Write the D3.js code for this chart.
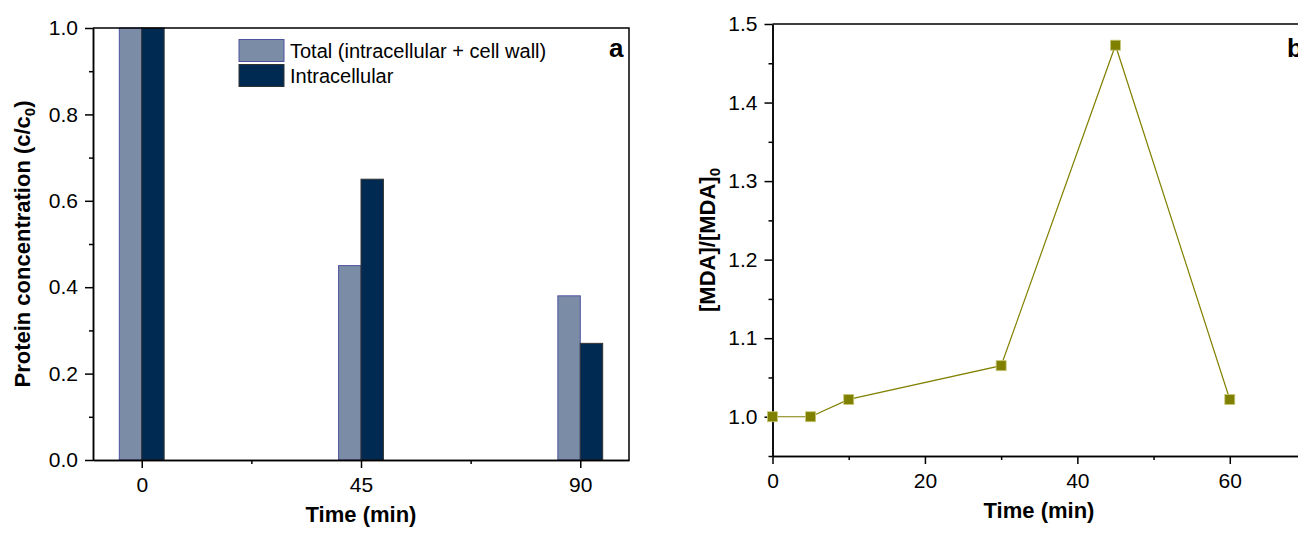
<!DOCTYPE html>
<html>
<head>
<meta charset="utf-8">
<script src="https://d3js.org/d3.v7.min.js"></script>
<style>
  body { margin: 0; background: #fff; }
  svg text { font-family: Arial, "Liberation Sans", sans-serif; fill: #000; }
  .axis path, .axis line { stroke: #000; stroke-width: 1.5; }
  .axis text { font-size: 21px; }
</style>
</head>
<body>
<svg id="chart" width="1298" height="534"></svg>
<script>
// ---- panel a data ----
var timesA = [0, 45, 90];
var totalA = [1.0, 0.45, 0.38];
var intraA = [1.0, 0.65, 0.27];
var seriesNames = ["Total (intracellular + cell wall)", "Intracellular"];
var ticksAx = [0, 45, 90];
var minorAx = [22.5, 67.5];
var ticksAy = [0, 0.2, 0.4, 0.6, 0.8, 1.0];
var minorAy = [0.1, 0.3, 0.5, 0.7, 0.9];

// ---- panel b data ----
var timesB = [0, 5, 10, 30, 45, 60];
var mdaB = [1.0, 1.0, 1.022, 1.065, 1.473, 1.022];
var ticksBx = [0, 20, 40, 60];
var minorBx = [10, 30, 50];
var ticksBy = [1.0, 1.1, 1.2, 1.3, 1.4, 1.5];
var minorBy = [0.95, 1.05, 1.15, 1.25, 1.35, 1.45];

var colTotal = "#7a8ca6", colTotalEdge = "#4f52a0";
var colIntra = "#002a52", colIntraEdge = "#333333";
var olive = "#808000";
var barW = 4.6; // bar width in minutes

var svg = d3.select("#chart");

// ================= panel a =================
var xA = d3.scaleLinear().domain([-10, 100]).range([93, 629]);
var yA = d3.scaleLinear().domain([0, 1]).range([460, 28]);

var gA = svg.append("g");

// bars
var bars = gA.append("g");
bars.selectAll("rect.total")
  .data(timesA)
  .enter().append("rect")
  .attr("class", "total")
  .attr("x", function(d) { return xA(d - barW); })
  .attr("width", function(d) { return xA(d) - xA(d - barW); })
  .attr("y", function(d, i) { return yA(totalA[i]); })
  .attr("height", function(d, i) { return yA(0) - yA(totalA[i]); })
  .attr("fill", colTotal)
  .attr("stroke", colTotalEdge)
  .attr("stroke-width", 1);

bars.selectAll("rect.intra")
  .data(timesA)
  .enter().append("rect")
  .attr("class", "intra")
  .attr("x", function(d) { return xA(d); })
  .attr("width", function(d) { return xA(d + barW) - xA(d); })
  .attr("y", function(d, i) { return yA(intraA[i]); })
  .attr("height", function(d, i) { return yA(0) - yA(intraA[i]); })
  .attr("fill", colIntra)
  .attr("stroke", colIntraEdge)
  .attr("stroke-width", 1);

// frame (top/right)
gA.append("path")
  .attr("d", "M" + xA(-10) + "," + yA(1) + "H" + xA(100) + "V" + yA(0))
  .attr("fill", "none").attr("stroke", "#000").attr("stroke-width", 1.5);

// axes
gA.append("g").attr("class", "axis")
  .attr("transform", "translate(0," + yA(0) + ")")
  .call(d3.axisBottom(xA).tickValues(ticksAx).tickSize(8).tickPadding(9).tickSizeOuter(0).tickFormat(d3.format("d")));
gA.append("g").attr("class", "axis")
  .attr("transform", "translate(0," + yA(0) + ")")
  .call(d3.axisBottom(xA).tickValues(minorAx).tickSize(4).tickSizeOuter(0).tickFormat(""));
gA.append("g").attr("class", "axis")
  .attr("transform", "translate(" + xA(-10) + ",0)")
  .call(d3.axisLeft(yA).tickValues(ticksAy).tickSize(8).tickPadding(7).tickSizeOuter(0).tickFormat(d3.format(".1f")));
gA.append("g").attr("class", "axis")
  .attr("transform", "translate(" + xA(-10) + ",0)")
  .call(d3.axisLeft(yA).tickValues(minorAy).tickSize(4).tickSizeOuter(0).tickFormat(""));

// axis titles
gA.append("text")
  .attr("x", (xA(-10) + xA(100)) / 2).attr("y", 522)
  .attr("text-anchor", "middle")
  .style("font-size", "22px").style("font-weight", "bold")
  .text("Time (min)");

var ytA = gA.append("text")
  .attr("transform", "translate(30," + ((yA(0) + yA(1)) / 2) + ") rotate(-90)")
  .attr("text-anchor", "middle")
  .style("font-size", "22px").style("font-weight", "bold");
ytA.append("tspan").text("Protein concentration (c/c");
ytA.append("tspan").attr("dy", 5).style("font-size", "15px").text("0");
ytA.append("tspan").attr("dy", -5).text(")");

// legend
var legCols = [colTotal, colIntra];
var legEdges = [colTotalEdge, colIntraEdge];
var leg = gA.append("g");
leg.selectAll("rect")
  .data(seriesNames)
  .enter().append("rect")
  .attr("x", 239).attr("y", function(d, i) { return 39.5 + i * 25; })
  .attr("width", 45).attr("height", 22)
  .attr("fill", function(d, i) { return legCols[i]; })
  .attr("stroke", function(d, i) { return legEdges[i]; })
  .attr("stroke-width", 1);
leg.selectAll("text")
  .data(seriesNames)
  .enter().append("text")
  .attr("x", 290).attr("y", function(d, i) { return 57.5 + i * 25; })
  .style("font-size", "20px")
  .text(function(d) { return d; });

gA.append("text")
  .attr("x", 609).attr("y", 57)
  .style("font-size", "26px").style("font-weight", "bold")
  .text("a");

// ================= panel b =================
var xB = d3.scaleLinear().domain([0, 70]).range([772.5, 1306]);
var yB = d3.scaleLinear().domain([0.95, 1.5]).range([456, 24]);

var gB = svg.append("g");

gB.append("path")
  .attr("d", "M" + xB(0) + "," + yB(1.5) + "H" + xB(70) + "V" + yB(0.95))
  .attr("fill", "none").attr("stroke", "#000").attr("stroke-width", 1.5);

gB.append("g").attr("class", "axis")
  .attr("transform", "translate(0," + yB(0.95) + ")")
  .call(d3.axisBottom(xB).tickValues(ticksBx).tickSize(8).tickPadding(9).tickSizeOuter(0).tickFormat(d3.format("d")));
gB.append("g").attr("class", "axis")
  .attr("transform", "translate(0," + yB(0.95) + ")")
  .call(d3.axisBottom(xB).tickValues(minorBx).tickSize(4).tickSizeOuter(0).tickFormat(""));
gB.append("g").attr("class", "axis")
  .attr("transform", "translate(" + xB(0) + ",0)")
  .call(d3.axisLeft(yB).tickValues(ticksBy).tickSize(8).tickPadding(7).tickSizeOuter(0).tickFormat(d3.format(".1f")));
gB.append("g").attr("class", "axis")
  .attr("transform", "translate(" + xB(0) + ",0)")
  .call(d3.axisLeft(yB).tickValues(minorBy).tickSize(4).tickSizeOuter(0).tickFormat(""));

// line + markers
var line = d3.line()
  .x(function(d, i) { return xB(timesB[i]); })
  .y(function(d) { return yB(d); });
gB.append("path")
  .datum(mdaB)
  .attr("d", line)
  .attr("fill", "none")
  .attr("stroke", olive)
  .attr("stroke-width", 1.2);
gB.selectAll("rect.pt")
  .data(mdaB)
  .enter().append("rect")
  .attr("class", "pt")
  .attr("x", function(d, i) { return xB(timesB[i]) - 5; })
  .attr("y", function(d) { return yB(d) - 5; })
  .attr("width", 10).attr("height", 10)
  .attr("fill", olive)
  .attr("stroke", "#c8c87a")
  .attr("stroke-width", 0.8);

gB.append("text")
  .attr("x", 1039).attr("y", 518)
  .attr("text-anchor", "middle")
  .style("font-size", "22px").style("font-weight", "bold")
  .text("Time (min)");

var ytB = gB.append("text")
  .attr("transform", "translate(715," + ((yB(0.95) + yB(1.5)) / 2) + ") rotate(-90)")
  .attr("text-anchor", "middle")
  .style("font-size", "22px").style("font-weight", "bold");
ytB.append("tspan").text("[MDA]/[MDA]");
ytB.append("tspan").attr("dy", 5).style("font-size", "15px").text("0");

// panel letter, partly cut by the right edge as in the original
gB.append("text")
  .attr("x", 1287).attr("y", 57)
  .style("font-size", "26px").style("font-weight", "bold")
  .text("b");
</script>
</body>
</html>
